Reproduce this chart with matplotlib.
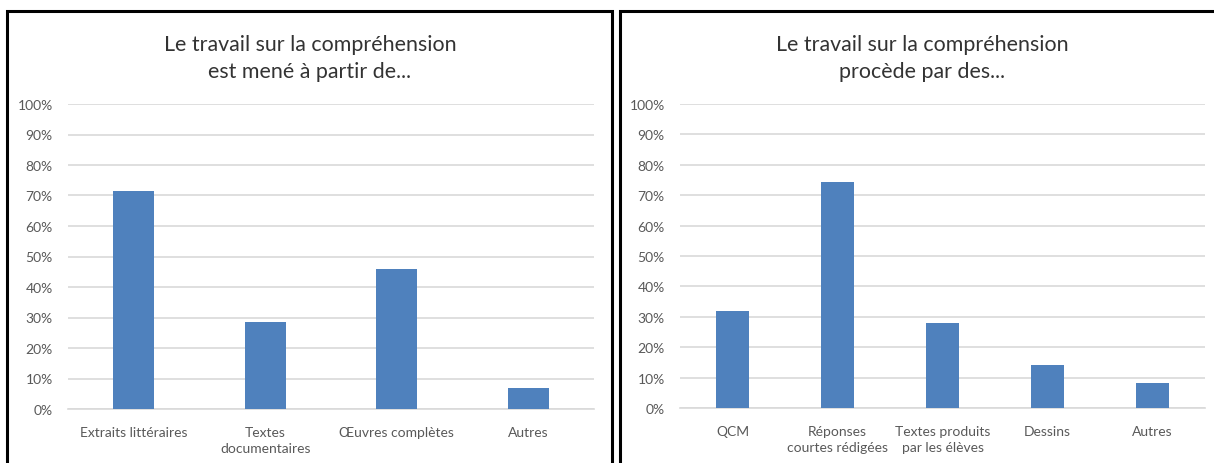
import matplotlib
matplotlib.use("Agg")
import matplotlib.pyplot as plt
from matplotlib.patches import Rectangle
import numpy as np

plt.rcParams["font.family"] = ["Lato", "DejaVu Sans"]

# Left chart
left_title = "Le travail sur la compréhension\nest mené à partir de..."
left_cats = ["Extraits littéraires", "Textes\ndocumentaires", "Œuvres complètes", "Autres"]
left_vals = [71.5, 28.5, 46.0, 7.0]

# Right chart
right_title = "Le travail sur la compréhension\nprocède par des..."
right_cats = ["QCM", "Réponses\ncourtes rédigées", "Textes produits\npar les élèves", "Dessins", "Autres"]
right_vals = [32.0, 74.5, 28.0, 14.0, 8.3]

W, H = 1214, 464
BAR = "#4f81bd"
GRID = "#d9d9d9"
TXT = "#595959"

fig = plt.figure(figsize=(W / 100, H / 100), dpi=100)

# panel borders
for x0, x1 in [(7, 612), (620, 1216)]:
    fig.patches.append(Rectangle((x0 / W, -0.05), (x1 - x0) / W, 1.05 - 12 / H,
                                 transform=fig.transFigure, fill=False,
                                 edgecolor="black", linewidth=2.2))

def panel(rect, cats, vals, title, title_x):
    ax = fig.add_axes(rect)
    x = np.arange(len(cats))
    ax.bar(x, vals, width=0.31, color=BAR, zorder=3)
    ax.set_xlim(-0.5, len(cats) - 0.5)
    ax.set_ylim(0, 100)
    ax.set_yticks(np.arange(0, 101, 10))
    ax.set_yticklabels([f"{v}%" for v in range(0, 101, 10)])
    ax.set_xticks(x)
    ax.set_xticklabels(cats, linespacing=1.45)
    ax.grid(axis="y", color=GRID, linewidth=1.2, zorder=0)
    for s in ["top", "right", "left"]:
        ax.spines[s].set_visible(False)
    ax.spines["bottom"].set_color(GRID)
    ax.spines["bottom"].set_linewidth(1.2)
    ax.tick_params(axis="both", length=0, labelsize=10, colors=TXT)
    ax.tick_params(axis="y", pad=11)
    ax.tick_params(axis="x", pad=12)
    fig.text(title_x / W, 1 - 58.5 / H, title, ha="center", va="center",
             fontsize=15.4, color="#333333", linespacing=1.45)
    return ax

panel([68 / W, 1 - 410 / H, (594 - 68) / W, 305 / H], left_cats, left_vals, left_title, 310)
panel([680 / W, 1 - 409 / H, (1205 - 680) / W, 304 / H], right_cats, right_vals, right_title, 922)

fig.savefig("out.png", dpi=100)
